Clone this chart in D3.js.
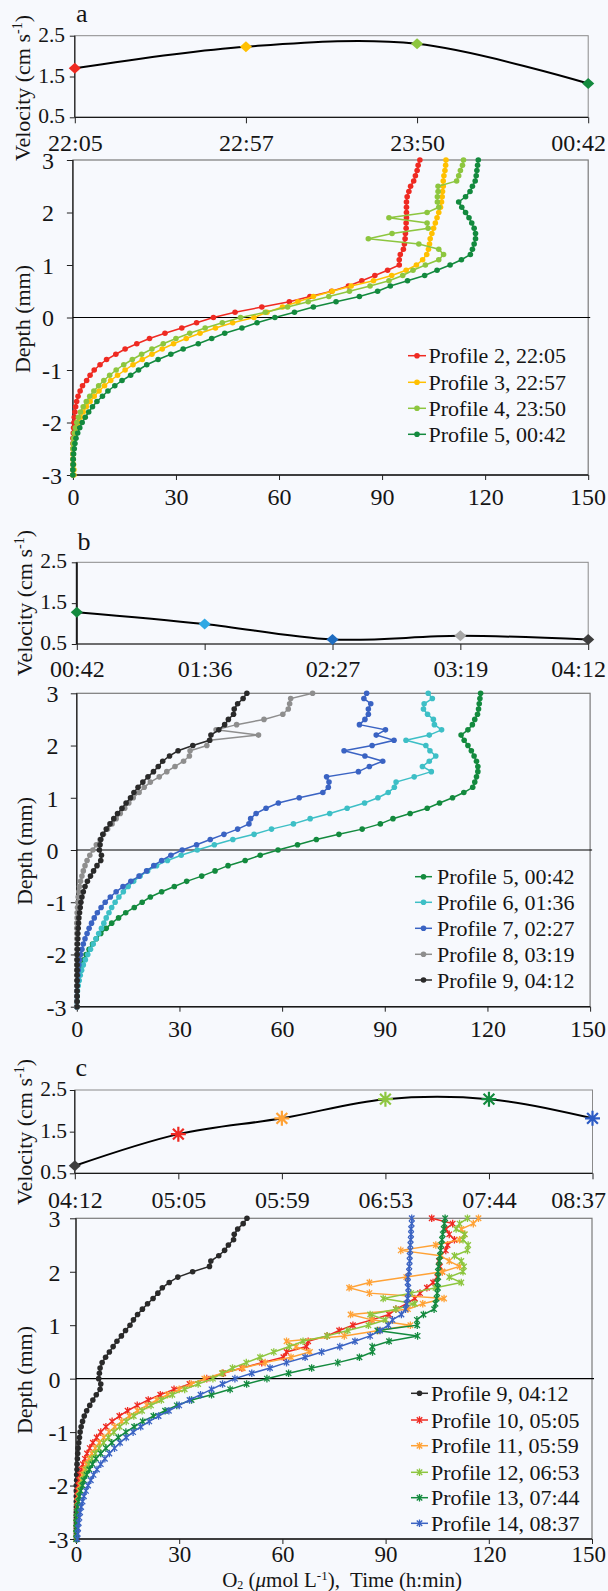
<!DOCTYPE html>
<html><head><meta charset="utf-8">
<script src="https://cdn.jsdelivr.net/npm/d3@7"></script>
<style>
html,body{margin:0;padding:0;background:#F7F9FD;}
svg{display:block;font-family:"Liberation Serif","Times New Roman",Times,serif;}
</style></head><body>
<svg id="chart" width="608" height="1591" font-family="'Liberation Serif','Times New Roman',Times,serif"></svg>
<script>
// ---------------- DATA ----------------
const depth = [3.0,2.9,2.8,2.7,2.6,2.5,2.4,2.3,2.2,2.1,2.0,1.9,1.8,1.7,1.6,1.5,1.4,1.3,1.2,1.1,1.0,0.9,0.8,0.7,0.6,0.5,0.4,0.3,0.2,0.1,0.0,-0.1,-0.2,-0.3,-0.4,-0.5,-0.6,-0.7,-0.8,-0.9,-1.0,-1.1,-1.2,-1.3,-1.4,-1.5,-1.6,-1.7,-1.8,-1.9,-2.0,-2.1,-2.2,-2.3,-2.4,-2.5,-2.6,-2.7,-2.8,-2.9,-3.0];

const profile2 = [101,100.5,100.2,99.7,99.2,98.3,97.8,97.3,97.1,97.1,97.1,97.1,97.0,97.0,96.8,96.7,96.5,96.2,95.3,95.0,95.0, 91.6,87.9,84.1,80.2,75.3,69.0,63.0,55.0,47.2, 40.9, 36.0,31.7,26.8,22.3,18.6,15.2,12.5,9.8,7.9,6.2, 5.0,4.0,2.8,2.1,1.5,1.1,0.8,0.6,0.4,0.3, 0.2,0.1,0,0,0,0,0,0,0,0];
const profile3 = [108.6,108.5,108.3,108.0,107.8,107.8,107.6,107.5,107.3,107.0,106.5,106.0,105.5,105.0,104.5,104.0,103.8,103.5,103.0,101.8,100.0, 97.0,92.8,87.5,81.0,75.5,70.0,65.5,61.0,56.5, 52.7, 46.5,41.5,37.0,33.0,29.3,26.0,23.0,20.2,17.5,15.2, 13.0,11.0,9.2,7.6,6.2,5.0,3.9,3.0,2.2,1.6, 1.1,0.7,0.4,0.2,0.1,0.1,0.1,0.2,0.3,0.3];
const profile4 = [113.7,113.4,112.8,112.3,111.7,106.3,106.3,106.1,106.1,106.5,103.1,92.0,103.1,103.4,92.9,86.0,100.7,106.5,107.9,106.5,102.6, 99.0,96.0,92.0,86.5,80.5,74.5,68.5,62.5,56.0, 48.8, 43.5,38.5,34.0,30.0,26.3,23.0,20.0,17.3,14.8,12.6, 10.7,9.0,7.5,6.1,4.9,3.9,3.0,2.2,1.6,1.1, 0.7,0.4,0.2,0.1,0,0,0,0,0,0];
const profile5 = [118.0,117.8,117.6,117.4,117.1,116.3,115.6,114.3,112.3,113.2,114.3,115.3,116.1,116.8,117.2,117.2,116.8,116.3,115.7,113.1,109.8, 106.0,102.4,97.4,92.4,88.7,83.4,76.6,70.0,64.5, 58.8, 53.6,49.2,44.2,40.4,36.5,32.1,28.5,24.8,21.5,19.1, 16.8,14.3,12.2,10.2,8.6,7.0,5.7,4.6,3.6,2.7, 2.0,1.4,0.9,0.6,0.4,0.2,0.1,0.1,0,0];
const profile6 = [102.7,103.9,101.5,101.3,102.5,104.2,104.5,106.6,103.0,96.2,102.0,103.2,104.9,103.0,101.0,103.6,98.6,93.3,92.8,91.0,88.0, 84.1,79.0,73.9,68.2,63.3,56.9,51.8,45.6,40.2, 35.2, 30.5,26.5,23.3,20.7,18.5,16.6,15.0,13.6,12.3,11.2, 10.2,9.4,8.6,7.9,7.2,6.4,5.6,4.8,4.0,3.2, 2.5,1.9,1.4,1.0,0.7,0.4,0.2,0.1,0.05,0];
const profile7 = [84.7,83.9,85.9,85.2,85.2,84.2,82.6,90.2,87.5,92.7,86.3,78.1,84.2,89.4,85.5,82.3,73.0,73.7,73.5,71.9,65.0, 58.9,55.3,52.4,50.8,50.3,47.0,43.0,39.0,35.0, 30.8, 27.5,24.8,22.5,20.4,18.2,15.8,13.5,11.5,9.8,8.3, 7.1,6.0,5.1,4.3,3.6,3.0,2.4,1.9,1.5,1.1, 0.8,0.6,0.4,0.3,0.2,0.1,0,0,0,0];
const profile8 = [68.9,62.5,62.2,61.8,60.2,54.7,46.7,40.7,53.1,38.9,38.0,33.1,32.9,31.2,28.7,26.3,24.1,21.5,19.7,18.2,16.5, 15.2,14.0,12.7,11.5,10.3,9.0,7.8,6.8,5.7, 4.7, 3.8,3.0,2.4,1.9,1.5,1.1,0.8,0.6,0.4,0.3, 0.2,0.1,0.1,0,0,0,0,0,0,0, 0,0,0,0,0,0,0,0,0,0];
const profile9 = [49.7,48.6,47.0,46.0,45.8,44.3,43.2,41.5,39.2,38.8,33.9,29.6,27.1,25.1,23.8,22.4,20.8,19.3,17.9,16.7,15.7, 14.4,13.2,11.9,10.8,9.7,8.6,7.6,7.0,6.8, 6.6, 7.2,7.0,5.9,4.9,4.0,3.1,2.4,1.9,1.5,1.2, 1.0,0.8,0.6,0.5,0.4,0.3,0.3,0.2,0.2,0.1, 0.1,0.1,0.1,0.1,0.1,0.1,0.1,0.1,0.1,0.1];
const profile10 = [103.4,109.5,107.5,108.5,110.0,108.0,107.5,106.0,105.5,105.8,106.5,105.0,103.8,102.0,100.0,98.5,96.0,93.0,91.0,86.0,80.5, 76.5,73.0,67.5,67.0,61.2,60.3,54.0,48.2,42.8, 38.0, 33.0,28.5,24.5,21.0,17.8,15.0,12.6,10.5,8.7,7.2, 6.0,4.9,4.0,3.2,2.6,2.0,1.6,1.2,0.9,0.7, 0.5,0.4,0.3,0.2,0.2,0.1,0.1,0.1,0.1,0.1];
const profile11 = [117.0,115.5,112.0,113.0,111.5,104.6,94.4,106.0,108.5,111.5,106.5,96.0,85.3,79.4,85.3,107.0,100.8,96.5,79.8,86.0,97.2, 88.0,78.0,61.2,64.0,68.0,62.5,55.0,48.5,42.5, 37.3, 33.5,30.0,26.6,23.5,20.6,17.9,15.5,13.3,11.3,9.6, 8.1,6.8,5.6,4.6,3.7,3.0,2.4,1.9,1.5,1.2, 0.9,0.7,0.5,0.4,0.3,0.2,0.2,0.1,0.1,0.1];
const profile12 = [113.8,111.5,110.5,113.0,112.5,114.0,113.8,110.0,112.0,112.8,112.5,108.5,112.0,104.5,97.4,89.3,98.5,93.0,85.5,90.0,85.0, 79.0,73.0,66.0,62.0,57.5,53.5,49.5,45.5,42.5, 39.8, 35.5,31.6,28.0,24.8,21.8,19.2,16.8,14.6,12.7,11.0, 9.4,8.0,6.7,5.6,4.6,3.7,3.0,2.4,1.9,1.5, 1.1,0.8,0.6,0.4,0.3,0.2,0.1,0.1,0,0];
const profile13 = [107.3,107.1,106.9,106.6,106.4,106.2,106.0,105.8,105.6,105.4,105.2,105.3,105.0,105.2,105.0,104.8,104.5,104.1,101.0,99.1,99.2, 87.6,99.3,91.0,86.1,86.2,82.4,76.1,68.5,61.8, 55.5, 49.6,44.8,39.4,33.6,29.3,25.9,22.5,19.4,16.9,14.5, 12.3,10.4,8.7,7.2,5.8,4.8,3.9,3.1,2.3,1.9, 1.4,1.0,0.7,0.4,0.2,0.1,0.1,0.1,0.1,0.1];
const profile14 = [97.6,97.6,97.4,97.4,97.3,97.2,97.2,97.0,97.0,96.9,96.8,96.5,96.4,96.6,96.6,96.4,96.1,95.8,94.6,92.0,90.8, 88.4,85.5,81.1,76.7,71.4,66.6,61.2,56.4,51.1, 46.2, 42.6,39.4,36.2,33.0,30.0,27.0,24.0,21.3,18.8,16.6, 14.6,12.8,11.2,9.7,8.4,7.2,6.1,5.1,4.3,3.5, 2.9,2.3,1.9,1.5,1.2,1.0,0.8,0.6,0.5,0.4];

const velTimesA = ["22:05","22:57","23:50","00:42"];
const velA = [1.70, 2.23, 2.30, 1.33];
const velTimesB = ["00:42","01:36","02:27","03:19","04:12"];
const velB = [1.28, 0.99, 0.61, 0.70, 0.61];
const velTimesC = ["04:12","05:05","05:59","06:53","07:44","08:37"];
const velC = [0.68, 1.44, 1.82, 2.28, 2.28, 1.82];

const legendA = ["Profile 2, 22:05","Profile 3, 22:57","Profile 4, 23:50","Profile 5, 00:42"];
const legendB = ["Profile 5, 00:42","Profile 6, 01:36","Profile 7, 02:27","Profile 8, 03:19","Profile 9, 04:12"];
const legendC = ["Profile 9, 04:12","Profile 10, 05:05","Profile 11, 05:59","Profile 12, 06:53","Profile 13, 07:44","Profile 14, 08:37"];

const o2Ticks = [0,30,60,90,120,150];
const depthTicks = [3,2,1,0,-1,-2,-3];
const velTicks = [0.5,1.5,2.5];

// ---------------- DRAWING ----------------
const svg = d3.select("#chart");
svg.append("rect").attr("width",608).attr("height",1591).attr("fill","#F7F9FD");
const TICKF = 24, TXTF = 22;

function styleAxis(g, fs){
  g.attr("font-family",null).attr("font-size",null);
  g.select(".domain").remove();
  g.selectAll(".tick line").attr("stroke","#222").attr("stroke-width",1);
  g.selectAll(".tick text").attr("font-size",fs||TICKF).attr("fill","#151515");
}
function starD(r, eight){
  const a = r*0.72;
  let d = `M0,${-r}L0,${r}M${-a},${-a}L${a},${a}M${-a},${a}L${a},${-a}`;
  if(eight) d += `M${-r},0L${r},0`;
  return d;
}
function drawMarker(g, type, cx, cy, color, size){
  if(type==="circle"){
    g.append("circle").attr("cx",cx).attr("cy",cy).attr("r",size).attr("fill",color);
  } else if(type==="diamond"){
    g.append("path").attr("transform",`translate(${cx},${cy})`)
      .attr("d",`M0,${-size}L${size*1.1},0L0,${size}L${-size*1.1},0Z`).attr("fill",color);
  } else if(type==="star"){
    g.append("path").attr("transform",`translate(${cx},${cy})`)
      .attr("d",starD(size,false)).attr("stroke",color).attr("stroke-width",1.3).attr("fill","none");
  } else if(type==="bigstar"){
    g.append("path").attr("transform",`translate(${cx},${cy})`)
      .attr("d",starD(size,true)).attr("stroke",color).attr("stroke-width",2.2).attr("fill","none");
  }
}
function clampLabels(gx, scaleFn){
  gx.selectAll(".tick text").each(function(d){
    const w = this.getComputedTextLength();
    const cx = scaleFn(d);
    if(cx + w/2 > 605.5) d3.select(this).attr("x", 605.5 - w/2 - cx);
  });
}
function rotTitle(x, y, parts){
  const t = svg.append("text").attr("transform",`translate(${x},${y}) rotate(-90)`)
    .attr("text-anchor","middle").attr("font-size",TXTF).attr("fill","#151515").attr("dy","0.35em");
  parts(t);
}

function drawVelocity(p){
  const x = d3.scalePoint().domain(p.times).range([p.L,p.R]).padding(0);
  const y = d3.scaleLinear().domain([0.5,2.5]).range([p.B,p.T]);
  const g = svg.append("g");
  g.append("rect").attr("x",p.L).attr("y",p.T).attr("width",p.R-p.L).attr("height",p.B-p.T)
    .attr("fill","none").attr("stroke","#8a8a8a").attr("stroke-width",1);
  g.append("line").attr("x1",p.L).attr("x2",p.L).attr("y1",p.T).attr("y2",p.B).attr("stroke","#1a1a1a").attr("stroke-width",p.leftW||1.2);
  g.append("line").attr("x1",p.L).attr("x2",p.R).attr("y1",p.B).attr("y2",p.B).attr("stroke","#1a1a1a").attr("stroke-width",1.2);
  const gy = g.append("g").attr("transform",`translate(${p.L},0)`)
    .call(d3.axisLeft(y).tickValues(velTicks).tickFormat(d3.format(".1f")).tickSize(5).tickSizeOuter(0));
  styleAxis(gy, 21.5);
  gy.selectAll(".tick text").attr("x", p.yLabEnd - p.L).attr("dy","0.26em");
  const gx = g.append("g").attr("transform",`translate(0,${p.B})`)
    .call(d3.axisBottom(x).tickSize(6).tickSizeOuter(0));
  styleAxis(gx);
  gx.selectAll(".tick text").attr("dy",null).attr("y",p.xLabBase - p.B);
  clampLabels(gx, x);
  const pts = p.times.map((t,i)=>[x(t), y(p.vals[i])]);
  g.append("path").attr("d", d3.line().curve(d3.curveCardinal.tension(0))(pts))
    .attr("fill","none").attr("stroke","#000").attr("stroke-width",2);
  p.times.forEach((t,i)=>drawMarker(g, p.mk[i][0], x(t), y(p.vals[i]), p.mk[i][1], p.mk[i][2]));
  svg.append("text").attr("x",p.letterX).attr("y",p.letterY).attr("font-size",26).attr("fill","#151515").text(p.letter);
  rotTitle(p.titleX, p.titleY, t=>{
    t.append("tspan").text("Velocity (cm s");
    t.append("tspan").attr("dy",-8).attr("font-size",14).text("-1");
    t.append("tspan").attr("dy",8).text(")");
  });
}

function drawProfile(p){
  const x = d3.scaleLinear().domain([0,150]).range([p.L,p.R]);
  const y = d3.scaleLinear().domain([-3,3]).range([p.B,p.T]);
  const g = svg.append("g");
  g.append("rect").attr("x",p.L).attr("y",p.T).attr("width",p.R-p.L).attr("height",p.B-p.T)
    .attr("fill","none").attr("stroke","#7a7a7a").attr("stroke-width",1.2);
  g.append("line").attr("x1",p.L).attr("x2",p.L).attr("y1",p.T).attr("y2",p.B).attr("stroke","#1a1a1a").attr("stroke-width",1.2);
  g.append("line").attr("x1",p.L).attr("x2",p.R).attr("y1",p.B).attr("y2",p.B).attr("stroke","#1a1a1a").attr("stroke-width",1.4);
  g.append("line").attr("x1",p.L).attr("x2",p.R+2).attr("y1",y(0)).attr("y2",y(0)).attr("stroke","#000").attr("stroke-width",1.2);
  const gy = g.append("g").attr("transform",`translate(${p.L},0)`)
    .call(d3.axisLeft(y).tickValues(depthTicks).tickFormat(d=>String(d)).tickSize(6).tickSizeOuter(0));
  styleAxis(gy);
  gy.selectAll(".tick text").attr("text-anchor","start").attr("x", p.yLabX - p.L).attr("dy","0.35em");
  const gx = g.append("g").attr("transform",`translate(0,${p.B})`)
    .call(d3.axisBottom(x).tickValues(o2Ticks).tickFormat(d=>String(d)).tickSize(5).tickSizeOuter(0));
  styleAxis(gx, p.xTickF);
  gx.selectAll(".tick text").attr("dy",null).attr("y",p.xLabBase - p.B);
  clampLabels(gx, x);
  const line = d3.line().x(d=>x(d[0])).y(d=>y(d[1]));
  p.series.forEach(s=>{
    const pts = s.vals.map((v,i)=>[v, depth[i]]);
    const sg = g.append("g");
    sg.append("path").attr("d",line(pts)).attr("fill","none").attr("stroke",s.color).attr("stroke-width",1.5);
    pts.forEach(pt=>drawMarker(sg, s.mk, x(pt[0]), y(pt[1]), s.color, s.mk==="circle"?2.8:3.8));
  });
  // legend
  const lg = svg.append("g");
  p.series.forEach((s,i)=>{
    const ly = p.legend.ys[i];
    lg.append("line").attr("x1",p.legend.x1).attr("x2",p.legend.x2).attr("y1",ly).attr("y2",ly)
      .attr("stroke",s.color).attr("stroke-width",1.5);
    drawMarker(lg, s.mk, (p.legend.x1+p.legend.x2)/2, ly, s.color, s.mk==="circle"?2.8:3.8);
    lg.append("text").attr("x",p.legend.tx).attr("y",ly+7.5).attr("font-size",TXTF).attr("fill","#151515").text(p.labels[i]);
  });
  rotTitle(p.titleX, p.titleY, t=>t.text("Depth (mm)"));
}

const C = {
  red:"#EF2A22", gold:"#FFC000", lime:"#8DC63F", dkgreen:"#138A3E", cyan:"#3DBFC6",
  blue:"#3A63C3", gray:"#8E8E8E", black:"#2A2A2A", orange:"#FFA236",
  sky:"#2FA8E4", vblue:"#1E6CC0", vgray:"#A8A8A8", dkgray:"#3E3E3E", sblue:"#2C5BC4"
};

// Panel a
drawVelocity({L:74.8,R:588.2,T:35.7,B:117.3,times:velTimesA,vals:velA,
  mk:[["diamond",C.red,5.5],["diamond",C.gold,5.5],["diamond",C.lime,5.5],["diamond",C.dkgreen,5.5]],
  letter:"a",letterX:76,letterY:22,titleX:22,titleY:88,yLabEnd:65,xLabBase:151});
drawProfile({L:72.9,R:588.2,T:160,B:475,yLabX:42,xLabBase:505,titleX:22,titleY:319,
  series:[{vals:profile2,color:C.red,mk:"circle"},{vals:profile3,color:C.gold,mk:"circle"},
          {vals:profile4,color:C.lime,mk:"circle"},{vals:profile5,color:C.dkgreen,mk:"circle"}],
  labels:legendA, legend:{x1:408,x2:426,tx:428.5,ys:[355.7,382.3,408.3,434.3]}});

// Panel b
drawVelocity({L:76.8,R:588.2,T:562.3,B:644,times:velTimesB,vals:velB,leftW:2,
  mk:[["diamond",C.dkgreen,5.5],["diamond",C.sky,5.5],["diamond",C.vblue,5.5],["diamond",C.vgray,5.5],["diamond",C.dkgray,5.5]],
  letter:"b",letterX:77.5,letterY:550,titleX:24,titleY:603,yLabEnd:67,xLabBase:677});
drawProfile({L:76.8,R:590.1,T:693.3,B:1006.7,yLabX:46.5,xLabBase:1037,titleX:24,titleY:851,
  series:[{vals:profile5,color:C.dkgreen,mk:"circle"},{vals:profile6,color:C.cyan,mk:"circle"},
          {vals:profile7,color:C.blue,mk:"circle"},{vals:profile8,color:C.gray,mk:"circle"},
          {vals:profile9,color:C.black,mk:"circle"}],
  labels:legendB, legend:{x1:415,x2:432,tx:437,ys:[876.7,902.3,928.3,954.3,980]}});

// Panel c
drawVelocity({L:74.8,R:592.5,T:1090,B:1173.3,times:velTimesC,vals:velC,
  mk:[["diamond",C.dkgray,5.5],["bigstar",C.red,7.5],["bigstar",C.orange,7.5],["bigstar",C.lime,7.5],["bigstar",C.dkgreen,7.5],["bigstar",C.sblue,7.5]],
  letter:"c",letterX:75.6,letterY:1076,titleX:24,titleY:1132,yLabEnd:67,xLabBase:1208});
drawProfile({L:76,R:592,T:1218.3,B:1539,yLabX:48.5,xLabBase:1562,xTickF:23,titleX:24,titleY:1380,
  series:[{vals:profile9,color:C.black,mk:"circle"},{vals:profile10,color:C.red,mk:"star"},
          {vals:profile11,color:C.orange,mk:"star"},{vals:profile12,color:C.lime,mk:"star"},
          {vals:profile13,color:C.dkgreen,mk:"star"},{vals:profile14,color:C.blue,mk:"star"}],
  labels:legendC, legend:{x1:411,x2:428,tx:431,ys:[1393.3,1420,1445.7,1472.3,1497.7,1523.3]}});

// x-axis title (bottom)
const xt = svg.append("text").attr("x",342).attr("y",1587).attr("text-anchor","middle")
  .attr("font-size",21).attr("fill","#151515").style("white-space","pre");
xt.append("tspan").text("O");
xt.append("tspan").attr("dy",2).attr("font-size",12).text("2");
xt.append("tspan").attr("dy",-2).text(" (");
xt.append("tspan").attr("font-style","italic").text("μ");
xt.append("tspan").text("mol L");
xt.append("tspan").attr("dy",-7).attr("font-size",13).text("-1");
xt.append("tspan").attr("dy",7).text("),  Time (h:min)");
</script></body></html>
